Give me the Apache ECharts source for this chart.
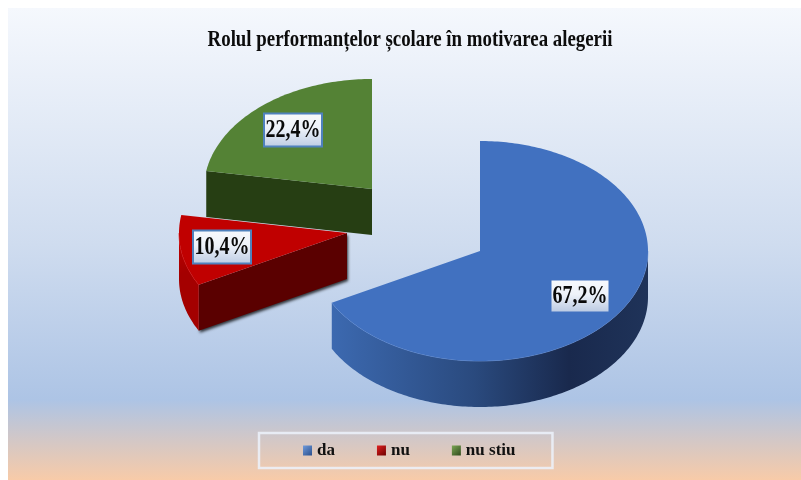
<!DOCTYPE html>
<html>
<head>
    <meta charset="utf-8">
    <title>Rolul performanțelor școlare</title>
    <script src="https://cdn.jsdelivr.net/npm/echarts@6.0.0/dist/echarts.min.js"></script>
    <style>
        html, body { margin: 0; padding: 0; background: #fff; }
        #chart { width: 801px; height: 480px; }
    </style>
</head>
<body>
<div id="chart"></div>
<script>
    // data
    var titleText = 'Rolul performanțelor școlare în motivarea alegerii';
    var categories = ['da', 'nu', 'nu stiu'];
    var shares = [67.2, 10.4, 22.4];

    // look of the slices
    var topColors = ['#4171c0', '#c00000', '#548235'];
    var cutColors = ['#2b4a7d', '#5a0000', '#263e13'];
    var rimColors = ['rgba(120,160,230,0.6)', 'rgba(225,30,30,0.7)', 'none'];
    var cutShadows = ['rgba(0,0,0,0)', 'rgba(0,0,0,0.75)', 'rgba(0,0,0,0)'];
    var sliceCenters = [[480, 251], [347, 233], [372, 189]];
    var labelCenters = [[580, 296], [222, 247], [293, 130]];
    var labelBorders = [null, '#4f81bd', '#4f81bd'];
    var sliceZ = [7, 6, 5];
    var radiusX = 168, radiusY = 110, depth = 46;

    var LG = echarts.graphic.LinearGradient;
    var wallColors = [
        new LG(0, 0, 1, 0, [
            { offset: 0, color: '#3c69b0' },
            { offset: 0.45, color: '#2a4a7e' },
            { offset: 0.75, color: '#19294d' },
            { offset: 1, color: '#1f3359' }
        ]),
        new LG(0, 0, 1, 0.3, [
            { offset: 0, color: '#c40000' },
            { offset: 1, color: '#a40000' }
        ]),
        '#263e13'
    ];
    var legendIcons = [
        ['#6f9bdc', '#2b4f8c'],
        ['#e02020', '#6c0000'],
        ['#7ba654', '#2f4a1c']
    ];

    function rimPoint(c, deg, drop) {
        var a = deg * Math.PI / 180;
        return [c[0] + radiusX * Math.sin(a), c[1] - radiusY * Math.cos(a) + (drop || 0)];
    }

    function arcPoints(c, from, to, drop) {
        var pts = [];
        for (var d = from; d < to; d += 1) pts.push(rimPoint(c, d, drop));
        pts.push(rimPoint(c, to, drop));
        return pts;
    }

    function renderSlice(i) {
        return function (params, api) {
            var value = api.value(0);
            var total = shares.reduce(function (s, v) { return s + v; }, 0);
            var before = 0;
            for (var k = 0; k < i; k++) before += shares[k];
            var start = before / total * 360;
            var end = start + value / total * 360;
            var c = sliceCenters[i];
            var kids = [];

            // flat cut faces that look to the front
            [start, end].forEach(function (deg, n) {
                var s = Math.sin(deg * Math.PI / 180);
                if ((n === 0 && s < -1e-6) || (n === 1 && s > 1e-6)) {
                    var rim = rimPoint(c, deg);
                    kids.push({
                        type: 'polygon',
                        shape: { points: [c, rim, [rim[0], rim[1] + depth], [c[0], c[1] + depth]] },
                        style: { fill: cutColors[i], shadowColor: cutShadows[i], shadowBlur: 3, shadowOffsetX: 1, shadowOffsetY: 2 }
                    });
                }
            });

            // outer wall, only the part on the near side
            var wallFrom = Math.max(start, 90), wallTo = Math.min(end, 270);
            if (wallTo > wallFrom) {
                var upper = arcPoints(c, wallFrom, wallTo, 0);
                var lower = arcPoints(c, wallFrom, wallTo, depth).reverse();
                kids.push({
                    type: 'polygon',
                    shape: { points: upper.concat(lower) },
                    style: { fill: wallColors[i] }
                });
                kids.push({
                    type: 'polyline',
                    shape: { points: upper },
                    style: { fill: 'none', stroke: rimColors[i], lineWidth: 1 }
                });
            }

            // top face
            kids.push({
                type: 'polygon',
                shape: { points: [c].concat(arcPoints(c, start, end, 0)) },
                style: { fill: topColors[i] }
            });

            // label box with the percentage
            var lc = labelCenters[i];
            var w = labelBorders[i] ? 58 : 57, h = labelBorders[i] ? 33 : 31;
            kids.push({
                type: 'rect',
                shape: { x: lc[0] - w / 2, y: lc[1] - h / 2, width: w, height: h },
                style: {
                    fill: new LG(0, 0, 0, 1, [
                        { offset: 0, color: '#f7f9fd' },
                        { offset: 0.45, color: '#eef2f9' },
                        { offset: 1, color: '#bccbe3' }
                    ]),
                    stroke: labelBorders[i] || 'none',
                    lineWidth: 2
                }
            });
            kids.push({
                type: 'text',
                x: lc[0],
                y: lc[1] + 1,
                scaleX: 0.8,
                style: {
                    text: value.toFixed(1).replace('.', ',') + '%',
                    font: 'bold 25px "Liberation Serif"',
                    fill: '#0a0a0a',
                    textAlign: 'center',
                    textVerticalAlign: 'middle'
                }
            });
            return { type: 'group', children: kids };
        };
    }

    var series = categories.map(function (name, i) {
        return {
            name: name,
            type: 'custom',
            coordinateSystem: 'none',
            z: sliceZ[i],
            silent: true,
            itemStyle: { color: topColors[i] },
            data: [shares[i]],
            renderItem: renderSlice(i)
        };
    });

    var myChart = echarts.init(document.getElementById('chart'), null, { renderer: 'canvas' });
    myChart.setOption({
        animation: false,
        backgroundColor: '#ffffff',
        graphic: [
            {
                type: 'rect',
                z: -10,
                shape: { x: 8, y: 8, width: 793, height: 472 },
                style: {
                    fill: new LG(0, 0, 0, 1, [
                        { offset: 0, color: '#f5f8fd' },
                        { offset: 0.5, color: '#cfdcef' },
                        { offset: 0.83, color: '#adc4e5' },
                        { offset: 1, color: '#f8cba8' }
                    ])
                }
            },
            {
                type: 'text',
                x: 410,
                y: 40,
                scaleX: 0.785,
                z: 10,
                style: {
                    text: titleText,
                    font: 'bold 24px "Liberation Serif"',
                    fill: '#0c0c0c',
                    textAlign: 'center',
                    textVerticalAlign: 'middle'
                }
            }
        ],
        legend: {
            left: 259,
            top: 433,
            padding: [9, 37, 9, 44],
            itemGap: 42,
            itemWidth: 9,
            itemHeight: 10,
            borderColor: 'rgba(236,242,251,0.85)',
            borderWidth: 2.5,
            selectedMode: false,
            textStyle: { fontFamily: 'Liberation Serif', fontWeight: 'bold', fontSize: 17, color: '#111' },
            data: categories.map(function (name, i) {
                return {
                    name: name,
                    icon: 'rect',
                    itemStyle: {
                        color: new LG(0, 0, 1, 1, [
                            { offset: 0, color: legendIcons[i][0] },
                            { offset: 1, color: legendIcons[i][1] }
                        ])
                    }
                };
            })
        },
        series: series
    });
</script>
</body>
</html>
